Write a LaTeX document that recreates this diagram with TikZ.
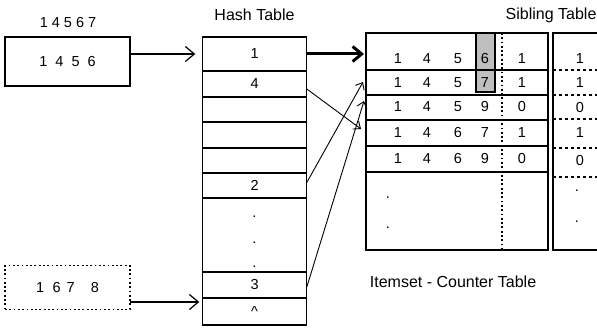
\documentclass[tikz,border=0pt]{standalone}
\usepackage{fontspec}
\setmainfont{Liberation Sans}
\usetikzlibrary{positioning,arrows.meta}
\tikzset{
  hrow/.style={draw, minimum width=104.5pt, outer sep=0pt, inner sep=0pt},
  inbox/.style={draw, minimum width=125pt, outer sep=0pt, inner sep=0pt},
  title/.style={font=\fontsize{16}{19}\selectfont},
  inarrow/.style={-{Straight Barb[length=9pt,width=15pt]}, line width=1.2pt},
  linkarrow/.style={-{Straight Barb[length=6pt,width=10pt]}, line width=0.9pt},
  boldarrow/.style={-{Straight Barb[length=9pt,width=15pt]}, line width=3pt},
  shortdots/.style={dash pattern=on 1.8pt off 2.5pt},
  sibdash/.style={dash pattern=on 3pt off 3pt}
}
\begin{document}
\begin{tikzpicture}[x=1pt, y=-1pt, line width=1.1pt,
  font=\fontsize{14.5}{17}\selectfont]
\useasboundingbox (0,0) rectangle (597,328);
%%%% Input itemsets
\node (q1) at (68,23) {1 4 5 6 7};
\node[inbox, minimum height=49pt] (in1) at (67.5,61.5) {1~~4~~5~~6};
\node[inbox, shortdots, minimum height=43.5pt] (in2) at (67.5,287.5)
  {1\hspace{8.5pt}6\hspace{6pt}7\hspace{16pt}8};
%%%% Hash table
\node[title] (htitle) at (254.5,15) {Hash Table};
\node[hrow, minimum height=34pt, anchor=north west] (h1) at (202.3,37) {1};
\node[hrow, minimum height=26pt, below=0pt of h1] (h4) {4};
\node[hrow, minimum height=25pt, below=0pt of h4] (e1) {};
\node[hrow, minimum height=26pt, below=0pt of e1] (e2) {};
\node[hrow, minimum height=25pt, below=0pt of e2] (e3) {};
\node[hrow, minimum height=25pt, below=0pt of e3] (h2) {2};
\node[hrow, minimum height=74pt, below=0pt of h2] (hdots) {};
\node[hrow, minimum height=26pt, below=0pt of hdots] (h3) {3};
\node[hrow, minimum height=27pt, below=0pt of h3] (hc) {\raisebox{-3pt}{\textasciicircum}};
\node (hd1) at (254.5,217) {.};
\node (hd2) at (254.5,243) {.};
\node (hd3) at (254.5,267) {.};
%%%% Itemset - counter table
\draw[fill=black!25] (476,33) rectangle (495,92);
\node[draw, outer sep=0pt, minimum width=182pt, minimum height=217pt,
  anchor=north west] (it) at (366,33) {};
\foreach \y in {70,95,120,146,172}
  \draw (it.west |- 0,\y) -- (it.east |- 0,\y);
\draw[shortdots] (502,33) -- (502,250);
\foreach \y/\a/\b/\c/\d/\n [count=\r] in
  {59/1/4/5/6/1, 83/1/4/5/7/1, 107/1/4/5/9/0, 133/1/4/6/7/1, 159/1/4/6/9/0} {
  \node (i\r-a) at (398,\y) {\a};
  \node (i\r-b) at (427,\y) {\b};
  \node (i\r-c) at (458,\y) {\c};
  \node (i\r-d) at (485,\y) {\d};
  \node (i\r-n) at (522,\y) {\n};
}
\node (id1) at (388,198) {.};
\node (id2) at (388,228) {.};
\node[anchor=west] (ctitle) at (366,282) {\fontsize{16}{19}\selectfont Itemset - Counter Table};
%%%% Sibling table
\node[title, anchor=east, inner sep=0pt] (stitle) at (597,15) {Sibling Table};
\draw (600,33) -- (553,33) -- (553,250) -- (600,250);
\foreach \y in {70,95,119,148,177}
  \draw[sibdash] (553,\y) -- (600,\y);
\foreach \y/\n [count=\r] in {59/1, 83/1, 108/0, 133/1, 161/0}
  \node (s\r) at (580,\y) {\n};
\node (sd1) at (577,191) {.};
\node (sd2) at (577,222) {.};
%%%% Arrows
\coordinate (t4) at (361,129);
\coordinate (t2) at (363,82);
\coordinate (t3) at (364,101);
\draw[inarrow, shorten >=7pt] (in1.east |- h1.west) -- (h1.west);
\draw[inarrow, shorten >=3pt] (in2.east |- 0,302) -- (hc.west |- 0,302);
\draw[boldarrow, shorten >=2pt] (h1.east) -- (h1.east -| it.west);
\draw[linkarrow] ([yshift=-5pt]h4.east) -- (t4);
\draw[linkarrow] ([yshift=3pt]h2.east) -- (t2);
\draw[linkarrow] ([yshift=-2pt]h3.east) -- (t3);
\end{tikzpicture}
\end{document}
